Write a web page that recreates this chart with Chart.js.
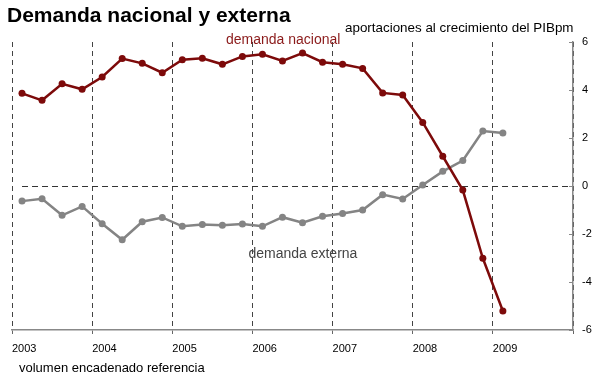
<!DOCTYPE html>
<html><head><meta charset="utf-8">
<script src="https://cdn.jsdelivr.net/npm/chart.js@4.4.1/dist/chart.umd.min.js"></script>
<style>html,body{margin:0;padding:0;background:#fff}#wrap{width:600px;height:378px;position:relative}</style>
</head><body><div id="wrap"><canvas id="c" width="600" height="378"></canvas></div>
<script>
// ---- data (quarterly, contributions to GDP growth, pp) ----
const quarters = [
  '2003-I','2003-II','2003-III','2003-IV',
  '2004-I','2004-II','2004-III','2004-IV',
  '2005-I','2005-II','2005-III','2005-IV',
  '2006-I','2006-II','2006-III','2006-IV',
  '2007-I','2007-II','2007-III','2007-IV',
  '2008-I','2008-II','2008-III','2008-IV',
  '2009-I'
];
const demandaNacional = [
  3.86, 3.57, 4.26, 4.03,
  4.54, 5.31, 5.11, 4.72,
  5.26, 5.32, 5.07, 5.40,
  5.49, 5.21, 5.54, 5.16,
  5.07, 4.90, 3.88, 3.79,
  2.65, 1.24, -0.17, -3.01,
  -5.21
];
const demandaExterna = [
  -0.63, -0.53, -1.22, -0.85,
  -1.57, -2.24, -1.49, -1.31,
  -1.68, -1.60, -1.64, -1.58,
  -1.68, -1.30, -1.53, -1.26,
  -1.15, -1.00, -0.36, -0.54,
  0.04, 0.61, 1.06, 2.29,
  2.21
];
const yearLabels = ['2003','2004','2005','2006','2007','2008','2009'];
const yTickValues = [-6, -4, -2, 0, 2, 4, 6];

const titleText = 'Demanda nacional y externa';
const axisTitleRight = 'aportaciones al crecimiento del PIBpm';
const axisTitleBottom = 'volumen encadenado referencia';
const labelNacional = 'demanda nacional';
const labelExterna = 'demanda externa';

// quarter label -> position on the time axis (middle of the quarter)
const romanQ = {I: 1, II: 2, III: 3, IV: 4};
function quarterPos(q) {
  const [y, r] = q.split('-');
  return parseInt(y, 10) + (romanQ[r] - 0.5) / 4;
}
const xFirstYear = parseInt(yearLabels[0], 10);
const xLastYear = parseInt(yearLabels[yearLabels.length - 1], 10) + 1;

const RED = '#7d0a0a';
const GRAY = '#848484';
const FONT = "'Liberation Sans', Arial, sans-serif";

const decorPlugin = {
  id: 'decor',
  beforeDatasetsDraw(chart) {
    const {ctx, chartArea, scales: {x, y}} = chart;
    // zero reference line (dashed)
    const y0 = Math.round(y.getPixelForValue(0)) + 0.5;
    ctx.save();
    ctx.strokeStyle = '#333';
    ctx.lineWidth = 1;
    ctx.setLineDash([6, 4]);
    ctx.beginPath();
    ctx.moveTo(x.getPixelForValue(quarterPos(quarters[0])), y0);
    ctx.lineTo(chartArea.right, y0);
    ctx.stroke();
    ctx.restore();
  },
  afterDraw(chart) {
    const {ctx, chartArea, scales: {x, y}} = chart;
    ctx.save();
    // inner tick marks on right axis
    ctx.strokeStyle = '#888';
    ctx.lineWidth = 1;
    yTickValues.forEach(v => {
      const py = Math.round(y.getPixelForValue(v)) + 0.5;
      ctx.beginPath();
      ctx.moveTo(chartArea.right, py);
      ctx.lineTo(chartArea.right - 4, py);
      ctx.stroke();
    });
    // texts
    ctx.textBaseline = 'alphabetic';
    ctx.textAlign = 'left';
    ctx.fillStyle = '#000';
    ctx.font = 'bold 21px ' + FONT;
    ctx.fillText(titleText, 7, 22);
    ctx.font = '13.4px ' + FONT;
    ctx.fillText(axisTitleRight, 345, 32);
    ctx.font = '13px ' + FONT;
    ctx.fillText(axisTitleBottom, 19, 372);
    ctx.font = '14px ' + FONT;
    ctx.fillStyle = '#8b1a1a';
    ctx.fillText(labelNacional, x.getPixelForValue(2005.67), y.getPixelForValue(6) + 2);
    ctx.fillStyle = '#444';
    ctx.fillText(labelExterna, x.getPixelForValue(2005.95), y.getPixelForValue(-3));
    ctx.restore();
  }
};

new Chart(document.getElementById('c'), {
  type: 'line',
  data: {
    datasets: [
      {
        label: labelNacional,
        data: quarters.map((q, i) => ({x: quarterPos(q), y: demandaNacional[i]})),
        borderColor: RED, backgroundColor: RED,
        borderWidth: 2.5, pointRadius: 3.5, pointBorderWidth: 0,
        pointBackgroundColor: RED, tension: 0
      },
      {
        label: labelExterna,
        data: quarters.map((q, i) => ({x: quarterPos(q), y: demandaExterna[i]})),
        borderColor: GRAY, backgroundColor: GRAY,
        borderWidth: 2.5, pointRadius: 3.5, pointBorderWidth: 0,
        pointBackgroundColor: GRAY, tension: 0
      }
    ]
  },
  options: {
    responsive: false,
    animation: false,
    devicePixelRatio: 1,
    layout: {padding: {top: 42, left: 12, right: 0, bottom: 0}},
    plugins: {legend: {display: false}, title: {display: false}, tooltip: {enabled: false}},
    scales: {
      x: {
        type: 'linear',
        min: xFirstYear, max: xLastYear,
        afterFit(s) { s.height = 48; },
        afterBuildTicks(s) {
          s.ticks = [];
          for (let v = xFirstYear; v <= xLastYear; v++) s.ticks.push({value: v});
        },
        ticks: {
          align: 'start', autoSkip: false, maxRotation: 0,
          padding: 8, color: '#000',
          font: {family: FONT, size: 11},
          callback: (v) => yearLabels[Math.round(v) - xFirstYear] || ''
        },
        grid: {
          color: '#444', lineWidth: 1, drawTicks: true, tickLength: 4,
          tickColor: '#666', tickBorderDash: []
        },
        border: {display: true, color: '#888', width: 1.5, dash: [5, 4]}
      },
      y: {
        type: 'linear', position: 'right',
        min: -6, max: 6,
        afterFit(s) { s.width = 27; },
        afterBuildTicks(s) { s.ticks = yTickValues.map(v => ({value: v})); },
        ticks: {
          padding: 9, color: '#000', crossAlign: 'near',
          font: {family: FONT, size: 11},
          callback: (v) => String(v)
        },
        grid: {display: false, drawTicks: false},
        border: {display: true, color: '#888', width: 1.5}
      }
    }
  },
  plugins: [decorPlugin]
});
</script>
</body></html>
